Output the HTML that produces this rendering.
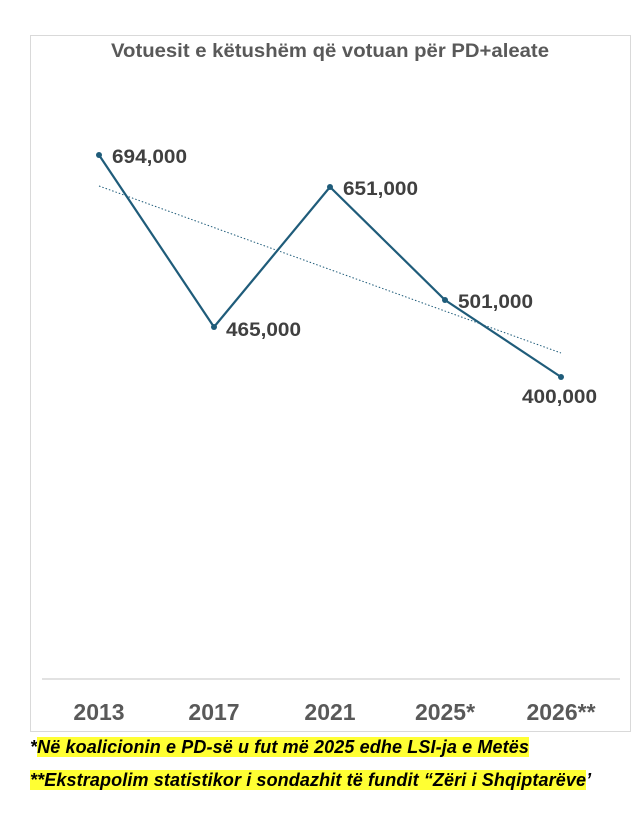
<!DOCTYPE html>
<html><head><meta charset="utf-8"><style>
body{margin:0;background:#fff;width:641px;height:823px;overflow:hidden;font-family:"Liberation Sans",sans-serif}
.box{position:absolute;left:30px;top:35px;width:601px;height:697px;border:1px solid #d9d9d9;box-sizing:border-box}
.fn{position:absolute;left:30px;font-style:italic;font-weight:bold;font-size:18px;color:#000;letter-spacing:0.12px}
.fn span{background:#ffff33}
</style></head><body>
<div class="box"></div>
<svg width="641" height="823" style="position:absolute;left:0;top:0">
<text x="330" y="57" text-anchor="middle" font-size="19" font-weight="bold" fill="#595959" font-family="Liberation Sans" textLength="438" lengthAdjust="spacingAndGlyphs">Votuesit e këtushëm që votuan për PD+aleate</text>
<line x1="42" y1="679" x2="620" y2="679" stroke="#d9d9d9" stroke-width="1.5"/>
<line x1="99" y1="186" x2="561" y2="353" stroke="#1f5c7a" stroke-width="1" stroke-dasharray="1.5,2"/>
<polyline points="99,155 214,327 330,187 445,300 561,377" fill="none" stroke="#1f5c7a" stroke-width="2.2"/>
<g fill="#1f5c7a"><circle cx="99" cy="155" r="3"/><circle cx="214" cy="327" r="3"/><circle cx="330" cy="187" r="3"/><circle cx="445" cy="300" r="3"/><circle cx="561" cy="377" r="3"/></g>
<g font-size="19" font-weight="bold" fill="#404040" font-family="Liberation Sans">
<text x="112" y="163" textLength="75" lengthAdjust="spacingAndGlyphs">694,000</text>
<text x="226" y="336" textLength="75" lengthAdjust="spacingAndGlyphs">465,000</text>
<text x="343" y="195" textLength="75" lengthAdjust="spacingAndGlyphs">651,000</text>
<text x="458" y="308" textLength="75" lengthAdjust="spacingAndGlyphs">501,000</text>
<text x="522" y="403" textLength="75" lengthAdjust="spacingAndGlyphs">400,000</text>
</g>
<g font-size="23" font-weight="bold" fill="#595959" text-anchor="middle" font-family="Liberation Sans">
<text x="99" y="720">2013</text><text x="214" y="720">2017</text><text x="330" y="720">2021</text><text x="445" y="720">2025*</text><text x="561" y="720">2026**</text>
</g>
</svg>
<div class="fn" style="top:737px">*<span>Në koalicionin e PD-së u fut më 2025 edhe LSI-ja e Metës</span></div>
<div class="fn" style="top:770px"><span>**Ekstrapolim statistikor i sondazhit të fundit “Zëri i Shqiptarëve</span>’</div>
</body></html>
